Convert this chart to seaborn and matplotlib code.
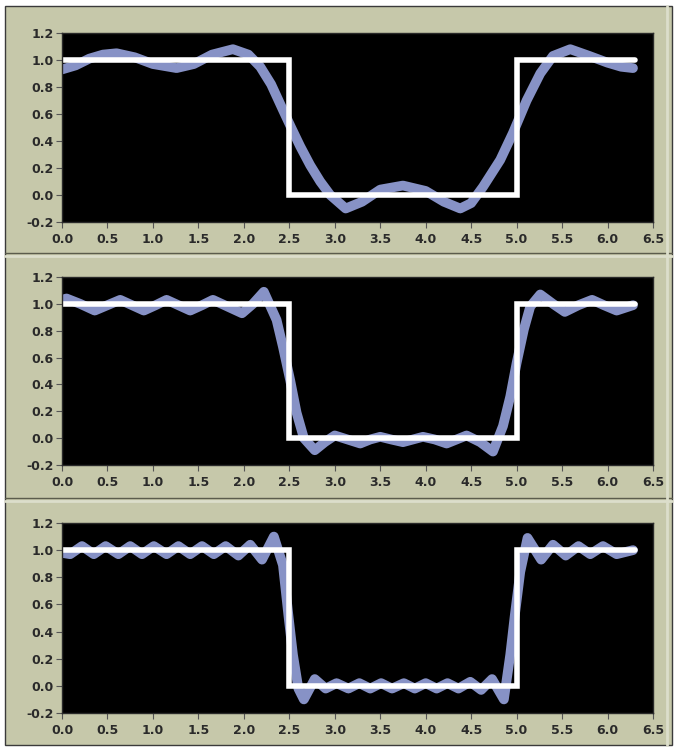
import numpy as np
import pandas as pd
import matplotlib
matplotlib.use("Agg")
import matplotlib.pyplot as plt
from matplotlib.patches import Rectangle
from matplotlib.lines import Line2D
import seaborn as sns

# ── data ──────────────────────────────────────────────────────────────────
square_x = [0.0, 2.5, 2.5, 5.0, 5.0, 6.3]
square_y = [1.0, 1.0, 0.0, 0.0, 1.0, 1.0]

# few harmonics
fit1_x = [0.0, 0.15, 0.3, 0.45, 0.6, 0.8, 1.0, 1.26, 1.45, 1.65, 1.88, 2.05,
          2.18, 2.3, 2.43, 2.52, 2.62, 2.73, 2.84, 2.95, 3.12, 3.3, 3.5, 3.75,
          4.0, 4.2, 4.38, 4.5, 4.63, 4.82, 4.96, 5.11, 5.26, 5.4, 5.59, 5.8,
          6.0, 6.15, 6.28]
fit1_y = [0.93, 0.96, 1.01, 1.04, 1.05, 1.02, 0.97, 0.94, 0.97, 1.04, 1.08, 1.04,
          0.95, 0.82, 0.63, 0.50, 0.36, 0.22, 0.10, 0.0, -0.10, -0.05, 0.04, 0.07,
          0.03, -0.05, -0.10, -0.06, 0.06, 0.26, 0.46, 0.70, 0.90, 1.03, 1.08, 1.03,
          0.98, 0.95, 0.94]

# more harmonics
fit2_x = [0.0, 0.05, 0.2, 0.36, 0.5, 0.64, 0.77, 0.9, 1.03, 1.15, 1.28, 1.41,
          1.54, 1.66, 1.82, 1.98, 2.1, 2.22, 2.36, 2.43, 2.51, 2.58, 2.66, 2.78,
          2.89, 3.0, 3.14, 3.28, 3.39, 3.5, 3.62, 3.75, 3.86, 3.97, 4.1, 4.23,
          4.34, 4.45, 4.6, 4.74, 4.85, 4.93, 5.0, 5.08, 5.15, 5.26, 5.4, 5.53,
          5.68, 5.83, 5.96, 6.1, 6.28]
fit2_y = [1.03, 1.04, 1.0, 0.95, 0.99, 1.03, 0.99, 0.95, 0.99, 1.03, 0.99, 0.95,
          0.99, 1.03, 0.98, 0.93, 1.0, 1.09, 0.88, 0.68, 0.43, 0.19, 0.0, -0.09,
          -0.03, 0.02, -0.01, -0.04, -0.01, 0.01, -0.01, -0.03, -0.01, 0.01, -0.01, -0.04,
          -0.01, 0.02, -0.03, -0.10, 0.09, 0.31, 0.56, 0.81, 0.98, 1.07, 1.0, 0.94,
          0.99, 1.03, 0.99, 0.95, 0.99]

# many harmonics
fit3_x = [0.0, 0.09, 0.22, 0.35, 0.48, 0.62, 0.75, 0.88, 1.01, 1.15, 1.28, 1.41,
          1.54, 1.67, 1.80, 1.94, 2.07, 2.20, 2.33, 2.43, 2.49, 2.54, 2.60, 2.66,
          2.78, 2.90, 3.02, 3.15, 3.27, 3.39, 3.51, 3.63, 3.76, 3.88, 4.0, 4.12,
          4.24, 4.36, 4.49, 4.61, 4.73, 4.86, 4.93, 4.98, 5.04, 5.12, 5.27, 5.40,
          5.54, 5.68, 5.81, 5.95, 6.10, 6.28]
fit3_y = [0.98, 0.97, 1.03, 0.97, 1.03, 0.97, 1.03, 0.97, 1.03, 0.97, 1.03, 0.97,
          1.03, 0.97, 1.03, 0.96, 1.04, 0.93, 1.10, 0.89, 0.52, 0.23, -0.02, -0.10,
          0.05, -0.02, 0.02, -0.02, 0.02, -0.02, 0.02, -0.02, 0.02, -0.02, 0.02, -0.02,
          0.02, -0.02, 0.03, -0.03, 0.05, -0.10, 0.23, 0.52, 0.84, 1.09, 0.93, 1.04,
          0.96, 1.03, 0.97, 1.03, 0.97, 1.0]

fits = [(fit1_x, fit1_y), (fit2_x, fit2_y), (fit3_x, fit3_y)]
x_ticks = np.arange(0, 6.51, 0.5)
y_ticks = np.arange(-0.2, 1.21, 0.2)

# ── style ─────────────────────────────────────────────────────────────────
sns.set_theme(style="dark")
plt.rcParams['font.family'] = ['DejaVu Sans']

panel_bg = "#c6c8aa"
curve_col = "#8792c6"
W, H = 679, 751

fig = plt.figure(figsize=(W / 100, H / 100), dpi=100, facecolor="white")

# panel frame and separators
fig.add_artist(Rectangle((5 / W, 6 / H), 667 / W, 739 / H, transform=fig.transFigure,
                         facecolor=panel_bg, edgecolor="#3a3a3a", linewidth=1.0, zorder=-10))
for yy in [253, 498]:
    fig.add_artist(Line2D([5 / W, 672 / W], [1 - yy / H, 1 - yy / H], transform=fig.transFigure,
                          color="#5b5c4c", linewidth=1.0))
    fig.add_artist(Line2D([5 / W, 672 / W], [1 - (yy + 3) / H, 1 - (yy + 3) / H],
                          transform=fig.transFigure, color="#dcdecb", linewidth=2.0))
fig.add_artist(Line2D([667 / W, 667 / W], [6 / H, 745 / H], transform=fig.transFigure,
                      color="#dcdecb", linewidth=2.0))

# axes boxes in pixels: (top, bottom)
boxes = [(33, 222), (277, 465), (523, 713)]
left, right = 62, 653

for (top, bottom), (fx, fy) in zip(boxes, fits):
    ax = fig.add_axes([left / W, 1 - bottom / H, (right - left) / W, (bottom - top) / H])
    ax.set_facecolor("black")

    sns.lineplot(x=fx, y=fy, ax=ax, color=curve_col, linewidth=7,
                 estimator=None, sort=False, solid_joinstyle="round",
                 solid_capstyle="round")
    sns.lineplot(x=square_x, y=square_y, ax=ax, color="white", linewidth=4,
                 estimator=None, sort=False, solid_joinstyle="miter")

    ax.set_xlim(0, 6.5)
    ax.set_ylim(-0.2, 1.2)
    ax.set_xticks(x_ticks)
    ax.set_yticks(y_ticks)
    ax.set_xticklabels([f"{t:.1f}" for t in x_ticks])
    ax.set_yticklabels([f"{t:.1f}" for t in y_ticks])
    ax.tick_params(axis="both", direction="out", length=4, width=0.8, color="#555555",
                   labelsize=9, labelcolor="#2a2a2a", pad=2,
                   bottom=True, left=True)
    ax.tick_params(axis="x", pad=4)
    for lab in ax.get_xticklabels() + ax.get_yticklabels():
        lab.set_fontweight("bold")
    for sp in ax.spines.values():
        sp.set_visible(True)
        sp.set_color("#2a2a2a")
        sp.set_linewidth(1.0)
    ax.grid(False)
    ax.set_xlabel("")
    ax.set_ylabel("")

plt.savefig("out.png", dpi=100, facecolor=fig.get_facecolor())
